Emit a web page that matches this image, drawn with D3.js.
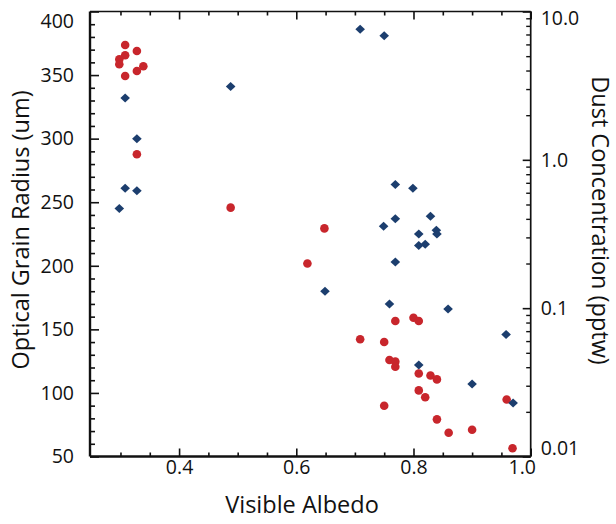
<!DOCTYPE html>
<html>
<head>
<meta charset="utf-8">
<script src="https://cdn.jsdelivr.net/npm/d3@7"></script>
<style>
  html, body { margin: 0; padding: 0; background: #fff; }
  svg { display: block; }
  text { font-family: "Open Sans", "Noto Sans", sans-serif; fill: #111; }
</style>
</head>
<body>
<svg id="chart" width="616" height="524"></svg>
<script>
// Visible albedo vs. optical grain radius (diamonds, left axis)
const albedoGrain = [0.298, 0.308, 0.328, 0.308, 0.328, 0.488, 0.709, 0.750, 0.769, 0.799,
                     0.829, 0.769, 0.749, 0.809, 0.839, 0.840, 0.809, 0.820, 0.769, 0.649,
                     0.759, 0.859, 0.958, 0.809, 0.900, 0.970];
const grainRadius = [245, 332, 300, 261, 259, 341, 386, 381, 264, 261,
                     239, 237, 231, 225, 228, 225, 216, 217, 203, 180,
                     170, 166, 146, 122, 107, 92];

// Visible albedo vs. dust concentration (circles, right log axis)
const albedoDust = [0.308, 0.328, 0.308, 0.298, 0.298, 0.339, 0.328, 0.308, 0.328, 0.488,
                    0.648, 0.619, 0.709, 0.750, 0.769, 0.800, 0.809, 0.759, 0.769, 0.769,
                    0.809, 0.829, 0.840, 0.809, 0.820, 0.750, 0.959, 0.840, 0.860, 0.900,
                    0.969];
const dustConc = [5.95, 5.42, 5.07, 4.76, 4.41, 4.27, 3.97, 3.67, 1.09, 0.476,
                  0.345, 0.200, 0.0617, 0.0591, 0.0819, 0.0862, 0.0819, 0.0447, 0.0436, 0.0403,
                  0.0363, 0.0352, 0.0331, 0.0279, 0.0251, 0.0220, 0.0242, 0.0178, 0.01445, 0.01516,
                  0.01137];

// Tick values
const xTicks = [0.4, 0.6, 0.8, 1.0];
const xMinor = [0.3, 0.35, 0.45, 0.5, 0.55, 0.65, 0.7, 0.75, 0.85, 0.9, 0.95];
const radiusTicks = [50, 100, 150, 200, 250, 300, 350, 400];
const radiusMinor = d3.range(60, 400, 10).filter(v => v % 50 !== 0);
const dustTicks = [0.01, 0.1, 1, 10];
const dustTickLabels = ["0.01", "0.1", "1.0", "10.0"];
const dustMinor = [0.02,0.03,0.04,0.05,0.06,0.07,0.08,0.09,
                   0.2,0.3,0.4,0.5,0.6,0.7,0.8,0.9,
                   2,3,4,5,6,7,8,9];

const margin = {left: 90, top: 11.5, right: 85.3, bottom: 67.5};
const W = 616, H = 524;
const iw = W - margin.left - margin.right;
const ih = H - margin.top - margin.bottom;

const svg = d3.select("#chart");
const g = svg.append("g").attr("transform", `translate(${margin.left},${margin.top})`);

const x = d3.scaleLinear().domain([0.248, 1.0]).range([0, iw]);
const yL = d3.scaleLinear().domain([50, 400]).range([ih, 0]);
const yR = d3.scaleLog().domain([0.01, 10]).range([ih, 0]);

const red = "#c8262c", blue = "#1c3e6e";
const tickFont = "19.5px";

function styleAxis(sel, w) {
  sel.select(".domain").remove();
  sel.selectAll(".tick line").attr("stroke", "#111").attr("stroke-width", w);
  sel.selectAll(".tick text").style("font-size", tickFont).attr("fill", "#111");
}

// Bottom axis
const bx = g.append("g").attr("transform", `translate(0,${ih})`)
  .call(d3.axisBottom(x).tickValues(xTicks).tickSize(-8).tickPadding(4).tickFormat(d3.format(".1f")));
styleAxis(bx, 1.6);
// the last label sits just inside the corner, clear of the right-axis labels
bx.selectAll(".tick text").filter(d => d === 1.0).attr("x", -9);
const bxm = g.append("g").attr("transform", `translate(0,${ih})`)
  .call(d3.axisBottom(x).tickValues(xMinor).tickSize(-4).tickFormat(""));
styleAxis(bxm, 1.6);

// Top axis (ticks only)
const tx = g.append("g")
  .call(d3.axisTop(x).tickValues(xTicks).tickSize(-8).tickFormat(""));
styleAxis(tx, 1.6);
const txm = g.append("g")
  .call(d3.axisTop(x).tickValues(xMinor).tickSize(-4).tickFormat(""));
styleAxis(txm, 1.6);

// Left axis
const ly = g.append("g")
  .call(d3.axisLeft(yL).tickValues(radiusTicks).tickSize(-9).tickPadding(16).tickFormat(d3.format("d")));
styleAxis(ly, 1.6);
ly.selectAll(".tick text").filter(d => d === 400).attr("y", 10);
const lym = g.append("g")
  .call(d3.axisLeft(yL).tickValues(radiusMinor).tickSize(-5).tickFormat(""));
styleAxis(lym, 1.6);

// Right axis (log)
const ry = g.append("g").attr("transform", `translate(${iw},0)`)
  .call(d3.axisRight(yR).tickValues(dustTicks).tickSize(-8).tickPadding(10)
    .tickFormat((d, i) => dustTickLabels[i]));
styleAxis(ry, 1.6);
ry.selectAll(".tick text").filter(d => d === 10).attr("y", 7);
ry.selectAll(".tick text").filter(d => d === 0.01).attr("y", -8);
const rym = g.append("g").attr("transform", `translate(${iw},0)`)
  .call(d3.axisRight(yR).tickValues(dustMinor).tickSize(-4.5).tickFormat(""));
styleAxis(rym, 1.4);

// Frame
g.append("line").attr("x1", 0).attr("x2", iw).attr("y1", ih).attr("y2", ih)
  .attr("stroke", "#111").attr("stroke-width", 2.4);
g.append("line").attr("x1", 0).attr("x2", 0).attr("y1", 0).attr("y2", ih)
  .attr("stroke", "#111").attr("stroke-width", 2.4);
g.append("line").attr("x1", 0).attr("x2", iw).attr("y1", 0).attr("y2", 0)
  .attr("stroke", "#111").attr("stroke-width", 1.5);
g.append("line").attr("x1", iw).attr("x2", iw).attr("y1", 0).attr("y2", ih)
  .attr("stroke", "#111").attr("stroke-width", 1.7);

// Dust concentration circles
g.append("g").selectAll("circle")
  .data(d3.zip(albedoDust, dustConc))
  .join("circle")
  .attr("cx", d => x(d[0]))
  .attr("cy", d => yR(d[1]))
  .attr("r", 4.3)
  .attr("fill", red);

// Grain radius diamonds
const hw = 4.8, hh = 4.5;
g.append("g").selectAll("path")
  .data(d3.zip(albedoGrain, grainRadius))
  .join("path")
  .attr("transform", d => `translate(${x(d[0])},${yL(d[1])})`)
  .attr("d", `M0,${-hh}L${hw},0L0,${hh}L${-hw},0Z`)
  .attr("fill", blue);

// Axis titles
svg.append("text")
  .attr("x", 302).attr("y", 513)
  .attr("text-anchor", "middle")
  .style("font-size", "23.5px")
  .text("Visible Albedo");

svg.append("text")
  .attr("transform", "translate(29,230) rotate(-90)")
  .attr("text-anchor", "middle")
  .style("font-size", "23.5px")
  .text("Optical Grain Radius (um)");

svg.append("text")
  .attr("transform", "translate(592,220.5) rotate(90)")
  .attr("text-anchor", "middle")
  .style("font-size", "23.5px")
  .text("Dust Concentration (pptw)");
</script>
</body>
</html>
